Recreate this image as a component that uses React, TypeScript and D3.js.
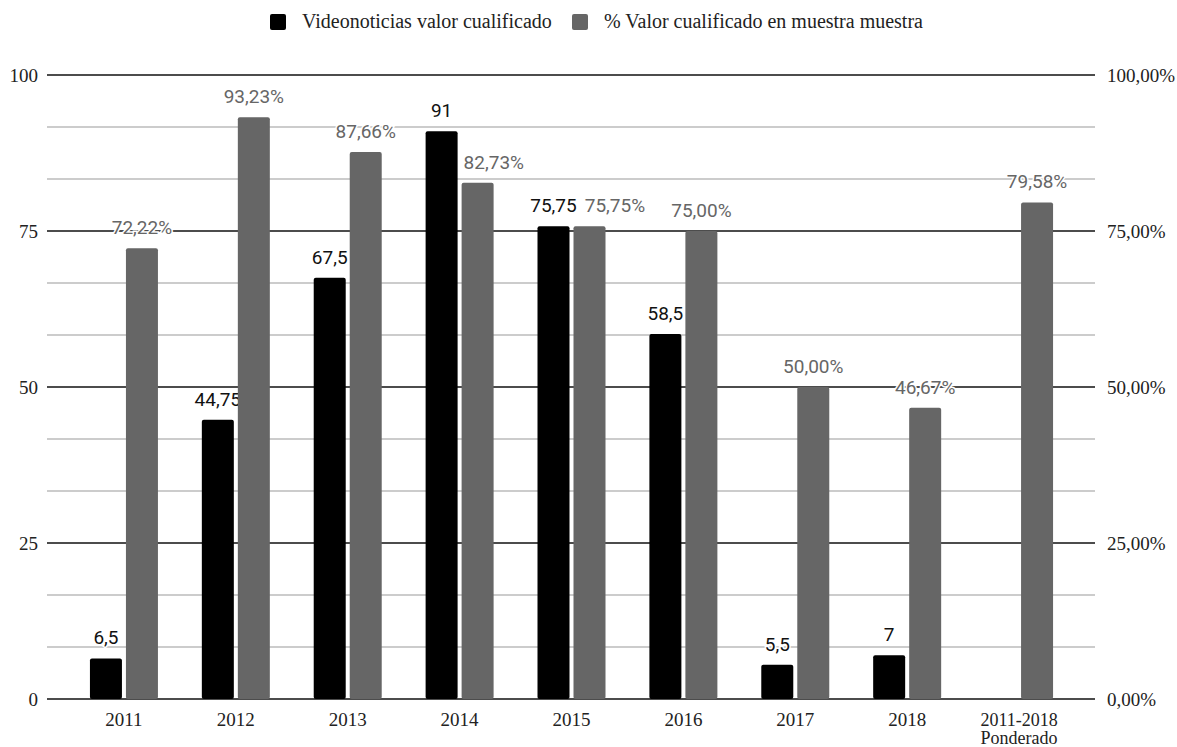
import React from "react";
import * as d3 from "d3";

const categories = ["2011", "2012", "2013", "2014", "2015", "2016", "2017", "2018", "2011-2018|Ponderado"];
const videonoticias: (number | null)[] = [6.5, 44.75, 67.5, 91, 75.75, 58.5, 5.5, 7, null];
const porcentaje: number[] = [72.22, 93.23, 87.66, 82.73, 75.75, 75.0, 50.0, 46.67, 79.58];
const leftTicks = [0, 25, 50, 75, 100];
const seriesNames = ["Videonoticias valor cualificado", "% Valor cualificado en muestra muestra"];

const W = 1177, H = 747;
const plotLeft = 47, plotRight = 1095;
const serif = "'Liberation Serif', 'Times New Roman', serif";
const sans = "Roboto, 'Noto Sans', sans-serif";
const labelFont = 19;

const fmt = (v: number, d: number) => v.toFixed(d).replace(".", ",");
const fmtVal = (v: number) => (Number.isInteger(v) ? String(v) : String(v).replace(".", ","));

let ctx: CanvasRenderingContext2D | null = null;
function measure(s: string) {
  if (!ctx) ctx = document.createElement("canvas").getContext("2d");
  if (!ctx) return s.length * labelFont * 0.55;
  ctx.font = `${labelFont}px Roboto`;
  return ctx.measureText(s).width;
}

export default function App() {
  const y = d3.scaleLinear().domain([0, 100]).range([699, 75]);
  const x = d3.scaleBand().domain(categories).range([68, 1075]).paddingInner(0).paddingOuter(0);
  const barW = 32, gap = 4, lift = 14;
  const gridVals = d3.range(0, 100.001, 100 / 12);
  const grey = "#666666";

  return (
    <svg width={W} height={H} style={{ display: "block", position: "absolute", left: 0, top: 0 }}>
      <rect width={W} height={H} fill="#fff" />
      {/* legend */}
      <rect x={270} y={14} width={16} height={16} rx={2} fill="#000" />
      <text x={302} y={28} fontFamily={serif} fontSize={20} fill="#222">{seriesNames[0]}</text>
      <rect x={572} y={14} width={16} height={16} rx={2} fill={grey} />
      <text x={604} y={28} fontFamily={serif} fontSize={20} fill="#222">{seriesNames[1]}</text>

      {/* grid */}
      {gridVals.map((v, i) => {
        const major = i % 3 === 0;
        return (
          <line key={i} x1={plotLeft} x2={plotRight} y1={y(v)} y2={y(v)}
            stroke={major ? "#111" : "#9a9a9a"} strokeWidth={major ? 1.4 : 1.1} />
        );
      })}
      {leftTicks.map((t) => (
        <g key={t}>
          <text x={38} y={y(t) + 6.5} textAnchor="end" fontFamily={serif} fontSize={19} fill="#222">{t}</text>
          <text x={1107} y={y(t) + 6.5} textAnchor="start" fontFamily={serif} fontSize={19} fill="#222">{fmt(t, 2)}%</text>
        </g>
      ))}

      {/* bars */}
      {categories.map((c, i) => {
        const cx = (x(c) as number) + x.bandwidth() / 2;
        const v1 = videonoticias[i];
        const v2 = porcentaje[i];
        const bx1 = cx - gap / 2 - barW;
        const bx2 = cx + gap / 2;
        let l1Right = -Infinity;
        let l1 = "";
        if (v1 !== null) {
          l1 = fmtVal(v1);
          l1Right = bx1 + barW / 2 + measure(l1) / 2;
        }
        const l2 = `${fmt(v2, 2)}%`;
        const w2 = measure(l2);
        let l2Left = bx2 + barW / 2 - w2 / 2;
        const l2Base = y(v2) - lift;
        if (v1 !== null) {
          const blackTop = y(v1);
          const l1Base = blackTop - lift;
          if (l2Base > blackTop && l2Left < bx1 + barW + 6) l2Left = bx1 + barW + 6;
          if (Math.abs(l2Base - l1Base) < labelFont && l2Left < l1Right + 8) l2Left = l1Right + 8;
        }
        const lines = c.split("|");
        return (
          <g key={c}>
            {v1 !== null && (
              <>
                <rect x={bx1} y={y(v1)} width={barW} height={y(0) - y(v1)} rx={2} fill="#000" />
                <text x={bx1 + barW / 2} y={y(v1) - lift} textAnchor="middle" fontFamily={sans} fontSize={labelFont}
                  fill="#111" stroke="#fff" strokeWidth={3} paintOrder="stroke">{l1}</text>
              </>
            )}
            <rect x={bx2} y={y(v2)} width={barW} height={y(0) - y(v2)} rx={2} fill={grey} />
            <text x={l2Left} y={l2Base} textAnchor="start" fontFamily={sans} fontSize={labelFont}
              fill={grey} stroke="#fff" strokeWidth={3} paintOrder="stroke">{l2}</text>
            <text x={cx} y={726} textAnchor="middle" fontFamily={serif} fontSize={lines.length > 1 ? 18 : 19} fill="#222">
              {lines.map((line, j) => (
                <tspan key={j} x={cx} dy={j === 0 ? 0 : 18}>{line}</tspan>
              ))}
            </text>
          </g>
        );
      })}
    </svg>
  );
}
